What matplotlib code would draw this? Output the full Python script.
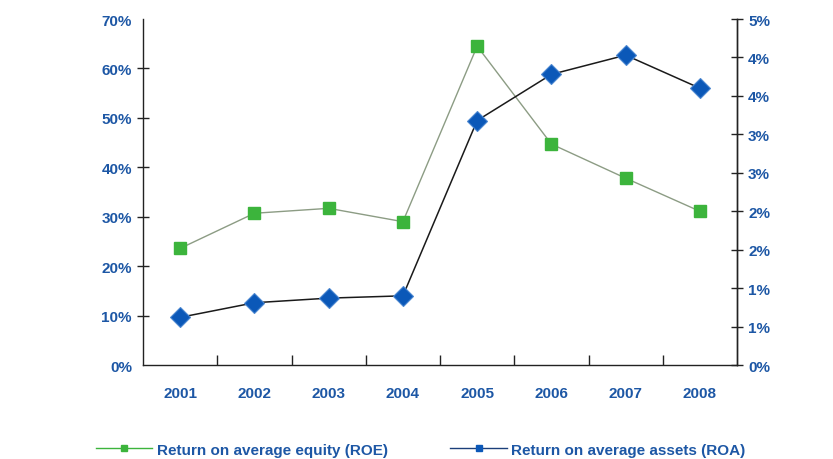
import matplotlib.pyplot as plt
from matplotlib.ticker import FuncFormatter
from matplotlib.lines import Line2D

years = ["2001", "2002", "2003", "2004", "2005", "2006", "2007", "2008"]
roe = [23.6, 30.7, 31.7, 29.0, 64.5, 44.7, 37.8, 31.1]   # % (left axis)
roa = [0.62, 0.81, 0.87, 0.90, 3.18, 3.78, 4.03, 3.60]   # % (right axis)
roe_ticks = [0, 10, 20, 30, 40, 50, 60, 70]
roa_ticks = [0, 0.5, 1.0, 1.5, 2.0, 2.5, 3.0, 3.5, 4.0, 4.5]

text_blue = "#1d57a5"
green = "#3cb43c"
blue = "#0b58b8"

plt.rcParams["font.family"] = ["Liberation Sans", "DejaVu Sans"]
plt.rcParams["font.size"] = 11
plt.rcParams["font.weight"] = "bold"

fig = plt.figure(figsize=(8.33, 4.6), dpi=100)
ax = fig.add_axes([0.1717, 0.2043, 0.7131, 0.7522])
ax2 = ax.twinx()

x = range(len(years))
ax.plot(x, roe, color="#8c9c84", lw=1, marker="s", ms=9,
        mfc=green, mec=green, zorder=3)
ax2.plot(x, roa, color="#1a1a1a", lw=1.1, marker="D", ms=10,
         mfc=blue, mec="#4a86d0", mew=0.8, zorder=3)

ax.set_xlim(-0.5, 7.5)
ax.set_ylim(0, 70)
ax2.set_ylim(0, 4.5)

# year labels centred, tick marks between categories
ax.set_xticks([i + 0.5 for i in range(7)])
ax.set_xticklabels([])
ax.set_xticks(list(x), minor=True)
ax.set_xticklabels(years, minor=True, color=text_blue)
ax.tick_params(axis="x", which="major", direction="in", length=7, width=1, color="#222222")
ax.tick_params(axis="x", which="minor", length=0, pad=15)

ax.set_yticks(roe_ticks)
ax.yaxis.set_major_formatter(FuncFormatter(lambda v, p: "%d%%" % round(v)))
ax.tick_params(axis="y", direction="inout", length=8, width=1, color="#222222",
               labelcolor=text_blue, pad=4)

# right axis labels rounded half-up, like the source spreadsheet
ax2.set_yticks(roa_ticks)
ax2.yaxis.set_major_formatter(FuncFormatter(lambda v, p: "%d%%" % int(v + 0.5 + 1e-9)))
ax2.tick_params(axis="y", direction="inout", length=8, width=1, color="#222222",
                labelcolor=text_blue, pad=4)

for a in (ax, ax2):
    a.spines["top"].set_visible(False)
    for s in ("left", "right", "bottom"):
        a.spines[s].set_color("#222222")
        a.spines[s].set_linewidth(1)
ax2.spines["left"].set_visible(False)
ax2.spines["bottom"].set_visible(False)

# no tick marks at the corners of the left axis
left_ticks = ax.yaxis.get_major_ticks()
for t in (left_ticks[0], left_ticks[-1]):
    t.tick1line.set_visible(False)

handles = [
    Line2D([], [], color=green, lw=1, marker="s", ms=5, mfc=green, mec=green),
    Line2D([], [], color="#1b3f7a", lw=1, marker="s", ms=5, mfc=blue, mec=blue),
]
labels = ["Return on average equity (ROE)", "Return on average assets (ROA)"]
leg = fig.legend(handles, labels, loc="lower center", ncol=2, frameon=False,
                 bbox_to_anchor=(0.505, -0.025), handlelength=3.7, columnspacing=4.1,
                 handletextpad=0.3)
for t in leg.get_texts():
    t.set_color(text_blue)

fig.savefig("out.png", dpi=100)
